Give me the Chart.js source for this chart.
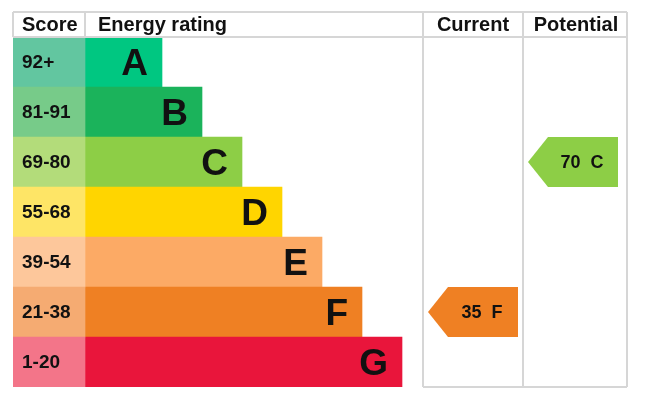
<!DOCTYPE html>
<html>
<head>
<meta charset="utf-8">
<script src="https://cdn.jsdelivr.net/npm/chart.js@4.4.0/dist/chart.umd.min.js"></script>
<style>
  html, body { margin: 0; padding: 0; background: #fff; }
</style>
</head>
<body>
<canvas id="epcChart" width="646" height="412"></canvas>
<script>
// bandes et scores
const bands = ["A", "B", "C", "D", "E", "F", "G"];
const scoreRanges = ["92+", "81-91", "69-80", "55-68", "39-54", "21-38", "1-20"];
const barLengths = [77, 117, 157, 197, 237, 277, 317];
const scoreColors = ["#62c6a0", "#77cb89", "#b3dc7a", "#fee566", "#fdc79b", "#f5ab72", "#f37589"];
const bandColors = ["#00c781", "#1bb35b", "#8dce46", "#ffd500", "#fcaa65", "#ef8023", "#e9153b"];
const currentScore = 35;
const currentBand = "F";
const potentialScore = 70;
const potentialBand = "C";

// colonnes du tableau (unités de l'axe x)
const COL_SCORE = 72;
const COL_CURRENT = 410;
const COL_POTENTIAL = 510;
const COL_END = 614;
const LINE = "#d6d6d6";
const FONT = "'Liberation Sans', Arial, sans-serif";

const tablePlugin = {
    id: "epcTable",
    afterDatasetsDraw(chart) {
        const ctx = chart.ctx;
        const x = chart.scales.x;
        const y = chart.scales.y;
        const area = chart.chartArea;
        const rowH = y.getPixelForValue(1) - y.getPixelForValue(0);
        const top = area.top - 25;

        ctx.save();
        // score + lettres
        ctx.fillStyle = "#111";
        ctx.textBaseline = "middle";
        bands.forEach((b, i) => {
            const cy = y.getPixelForValue(i);
            ctx.font = "bold 19px " + FONT;
            ctx.textAlign = "left";
            ctx.fillText(scoreRanges[i], x.getPixelForValue(0) + 9, cy + 1);
            ctx.font = "bold 37px " + FONT;
            ctx.textAlign = "right";
            ctx.fillText(b, x.getPixelForValue(COL_SCORE + barLengths[i]) - 14, cy + 3);
        });

        // flèches
        const arrow = (col0, band, score, color) => {
            const i = bands.indexOf(band);
            const cy = y.getPixelForValue(i);
            const l = x.getPixelForValue(col0) + 5;
            const r = l + 90;
            const t = cy - rowH / 2, btm = cy + rowH / 2;
            ctx.fillStyle = color;
            ctx.beginPath();
            ctx.moveTo(l, cy);
            ctx.lineTo(l + 20, t);
            ctx.lineTo(r, t);
            ctx.lineTo(r, btm);
            ctx.lineTo(l + 20, btm);
            ctx.closePath();
            ctx.fill();
            ctx.fillStyle = "#111";
            ctx.font = "bold 18px " + FONT;
            ctx.textAlign = "center";
            ctx.fillText(score + "  " + band, (l + 20 + r) / 2 - 1, cy + 1);
        };
        arrow(COL_CURRENT, currentBand, currentScore, bandColors[bands.indexOf(currentBand)]);
        arrow(COL_POTENTIAL, potentialBand, potentialScore, bandColors[bands.indexOf(potentialBand)]);

        // lignes du tableau
        ctx.strokeStyle = LINE;
        ctx.lineWidth = 2;
        const px = v => Math.round(x.getPixelForValue(v));
        ctx.beginPath();
        ctx.moveTo(px(0), top); ctx.lineTo(px(COL_END), top);
        ctx.moveTo(px(0), area.top); ctx.lineTo(px(COL_END), area.top);
        ctx.moveTo(px(COL_CURRENT), area.bottom); ctx.lineTo(px(COL_END), area.bottom);
        ctx.moveTo(px(0), top); ctx.lineTo(px(0), area.top);
        ctx.moveTo(px(COL_SCORE), top); ctx.lineTo(px(COL_SCORE), area.top);
        ctx.moveTo(px(COL_CURRENT), top); ctx.lineTo(px(COL_CURRENT), area.bottom);
        ctx.moveTo(px(COL_POTENTIAL), top); ctx.lineTo(px(COL_POTENTIAL), area.bottom);
        ctx.moveTo(px(COL_END), top); ctx.lineTo(px(COL_END), area.bottom);
        ctx.stroke();

        // en-têtes
        ctx.fillStyle = "#111";
        ctx.font = "bold 20px " + FONT;
        ctx.textBaseline = "middle";
        const hy = top + 13;
        ctx.textAlign = "left";
        ctx.fillText("Score", x.getPixelForValue(0) + 9, hy);
        ctx.fillText("Energy rating", x.getPixelForValue(COL_SCORE) + 13, hy);
        ctx.textAlign = "center";
        ctx.fillText("Current", (x.getPixelForValue(COL_CURRENT) + x.getPixelForValue(COL_POTENTIAL)) / 2, hy);
        ctx.fillText("Potential", (x.getPixelForValue(COL_POTENTIAL) + x.getPixelForValue(COL_END)) / 2 + 1, hy);
        ctx.restore();
    },
};

document.addEventListener("DOMContentLoaded", () => {
    const ctx = document.getElementById("epcChart").getContext("2d");
    new Chart(ctx, {
        type: "bar",
        data: {
            labels: bands,
            datasets: [
                {
                    label: "Score",
                    data: bands.map(() => [0, COL_SCORE]),
                    backgroundColor: scoreColors,
                    grouped: false,
                },
                {
                    label: "Energy rating",
                    data: barLengths.map((len) => [COL_SCORE, COL_SCORE + len]),
                    backgroundColor: bandColors,
                    grouped: false,
                },
            ],
        },
        options: {
            indexAxis: "y",
            responsive: false,
            animation: false,
            layout: { padding: { top: 37, left: 13, right: 19, bottom: 25 } },
            datasets: { bar: { barPercentage: 1, categoryPercentage: 1, borderWidth: 0 } },
            scales: {
                x: { type: "linear", min: 0, max: COL_END, display: false },
                y: { display: false },
            },
            plugins: { legend: { display: false }, tooltip: { enabled: false } },
        },
        plugins: [tablePlugin],
    });
});
</script>
</body>
</html>
